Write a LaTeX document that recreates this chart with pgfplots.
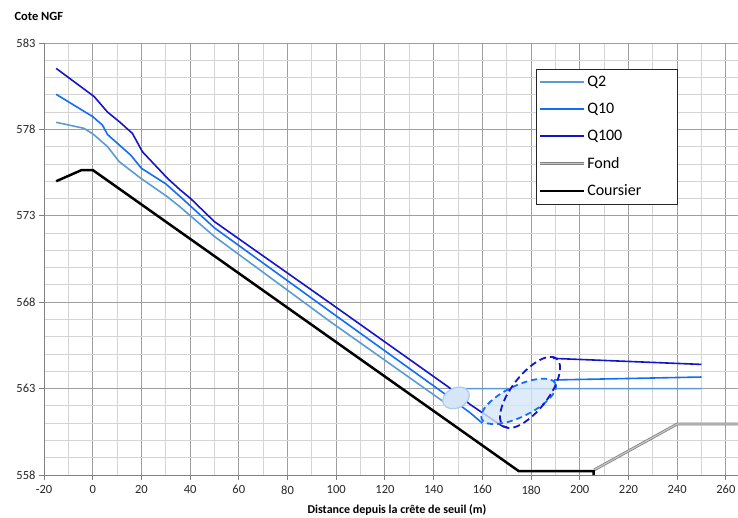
\documentclass[border=0pt]{standalone}
\usepackage{fontspec}
\setmainfont{Carlito}
\usepackage{pgfplots}
\pgfplotsset{compat=1.18}
\definecolor{colqdeux}{RGB}{91,155,213}
\definecolor{colqdix}{RGB}{20,110,245}
\definecolor{colqcent}{RGB}{20,20,200}
\definecolor{cFondOut}{RGB}{128,128,128}
\definecolor{cFondIn}{RGB}{200,200,200}
\definecolor{cEll}{RGB}{214,230,247}
\definecolor{cEllB}{RGB}{170,204,240}
\begin{document}
\begin{tikzpicture}[x=1pt,y=1pt]
\useasboundingbox (0,0) rectangle (738,517);
\begin{axis}[
  at={(44pt,42pt)}, anchor=south west,
  scale only axis, width=694pt, height=432pt,
  xmin=-20, xmax=265, ymin=558, ymax=583,
  xtick={-20,0,...,260}, ytick={558,563,...,583},
  minor x tick num=1, minor y tick num=4,
  grid=both,
  major grid style={black!38, line width=0.9pt},
  minor grid style={black!17, line width=0.9pt},
  axis x line*=bottom, axis y line*=left,
  axis line style={black!50, line width=0.9pt},
  tick align=outside, major tick length=5pt, minor tick length=0pt,
  tick style={black!50, line width=0.9pt},
  ticklabel style={font=\fontsize{12.5}{14}\selectfont, text=black!85},
  xticklabel style={yshift=-2pt},
  /pgf/number format/assume math mode=true,
  legend style={at={(0.709,0.94)}, anchor=north west, draw=black!85, line width=0.8pt,
    fill=white, font=\fontsize{16}{18}\selectfont, row sep=11pt, inner ysep=5pt, inner xsep=2pt},
  legend cell align=left,
  legend image code/.code={\path (-24pt,0pt) -- (0pt,0pt); \draw[#1] (0pt,0pt) -- (20pt,0pt);},
]
\addplot[colqdeux, line width=1.6pt] coordinates {
(-15,578.41) (-3.5,578.06) (0.6,577.68) (6.1,577.0) (10.9,576.13) (19.75,575.17)
(30.7,574.1) (36,573.5) (50,571.8) (97.6,566.87) (145,562.15) (147.5,562.1)
(150,563.0) (250,563.0)};
\addlegendentry{\makebox[86pt][l]{Q2}}
\addplot[colqdix, line width=1.6pt] coordinates {
(-15,580.03) (0,578.74) (4,578.25) (6.1,577.7) (15.7,576.5) (20,575.75) (30,574.85)
(36,574.1) (50,572.3) (97.6,567.45) (146,562.55) (155,561.6) (160,561.0)};
\addlegendentry{\makebox[86pt][l]{Q10}}
\addplot[colqcent, line width=1.6pt] coordinates {
(-15,581.53) (0.6,579.9) (6.1,579.0) (10.9,578.45) (16.3,577.77) (20.4,576.71)
(30.7,575.17) (36,574.49) (40.2,574.0) (50,572.66) (97.6,567.94) (146.8,563.02)
(155.1,562.07) (168.5,560.8) (170.3,560.77)};
\addlegendentry{\makebox[86pt][l]{Q100}}
\addplot[draw=cFondOut, line width=0.8pt, double=cFondIn, double distance=1.2pt] coordinates {
(206,558.3) (240,560.95) (265,560.95)};
\addlegendentry{\makebox[86pt][l]{Fond}}
\addplot[black, line width=2.5pt] coordinates {
(-15,575.0) (-4.5,575.65) (0,575.65) (175,558.22) (205.7,558.22) (205.7,558.0)};
\addlegendentry{\makebox[86pt][l]{Coursier}}
\addplot[colqdix, line width=1.6pt, forget plot] coordinates {(189.5,563.5) (250,563.67)};
\addplot[colqcent, line width=1.6pt, forget plot] coordinates {(189,564.75) (250,564.4)};
% annotations
\draw[rotate around={25:(axis cs:149.2,562.46)}, fill=cEll, draw=cEllB, line width=1.2pt]
  (axis cs:149.2,562.46) ellipse [x radius=14pt, y radius=10pt];
\draw[rotate around={26:(axis cs:174.9,562.26)}, fill=cEll, fill opacity=0.8, draw=colqdix,
  line width=1.8pt, dash pattern=on 6pt off 4pt]
  (axis cs:174.9,562.26) ellipse [x radius=41pt, y radius=15.5pt];
\draw[rotate around={52:(axis cs:179.6,562.78)}, draw=colqcent,
  line width=1.8pt, dash pattern=on 7pt off 4pt]
  (axis cs:179.6,562.78) ellipse [x radius=43pt, y radius=18pt];
\end{axis}
\node[anchor=west, font=\bfseries\fontsize{12.5}{14}\selectfont] at (11,500.5) {Cote NGF};
\node[font=\bfseries\fontsize{12}{14}\selectfont] at (397,7.5) {Distance depuis la crête de seuil (m)};
\end{tikzpicture}
\end{document}
